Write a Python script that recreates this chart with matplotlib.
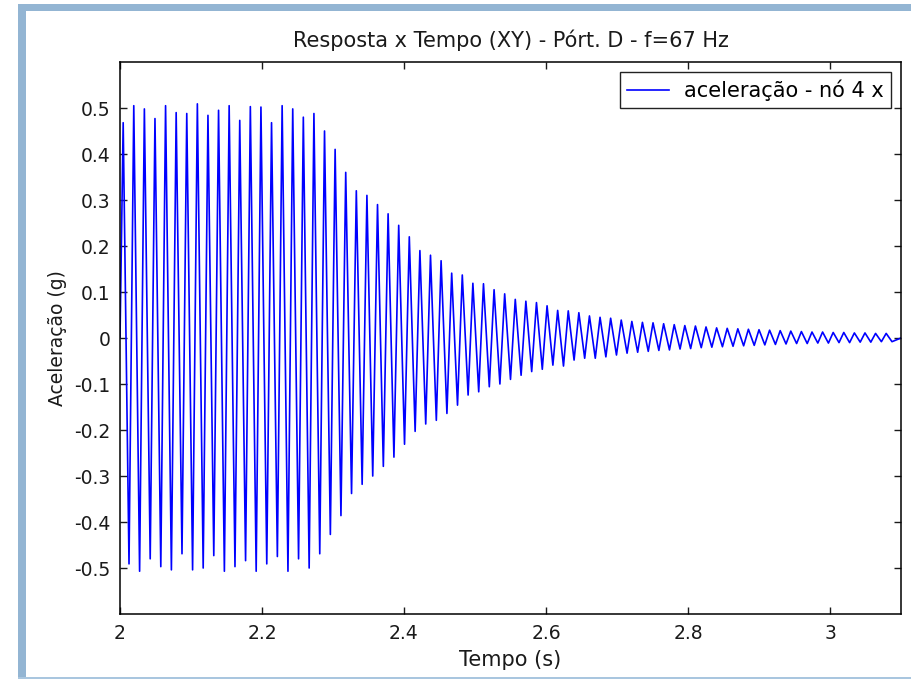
import numpy as np
import matplotlib
matplotlib.use('Agg')
import matplotlib.pyplot as plt
from matplotlib.patches import Rectangle

plt.rcParams['font.family'] = ['DejaVu Sans']
plt.rcParams['axes.unicode_minus'] = False

# excitation frequency (from the title), peaks
freq = 67.0
upper_peaks = [0.468, 0.505, 0.498, 0.477, 0.505, 0.49, 0.488, 0.509, 0.484, 0.495,
               0.505, 0.473, 0.503, 0.502, 0.468, 0.505, 0.498,
               0.48, 0.488, 0.45, 0.41, 0.36, 0.32, 0.31, 0.29, 0.27, 0.245,
               0.22, 0.19, 0.18, 0.168, 0.141, 0.137, 0.119, 0.118, 0.105, 0.096,
               0.084, 0.08, 0.077, 0.07, 0.06, 0.059, 0.055, 0.048, 0.045, 0.043,
               0.039, 0.036,
               0.034, 0.033, 0.031, 0.029, 0.027, 0.026, 0.024, 0.022, 0.021, 0.02,
               0.019, 0.018, 0.017, 0.016, 0.015, 0.014, 0.013, 0.013, 0.012, 0.012,
               0.011, 0.011, 0.010, 0.010]
lower_peaks = [-0.491, -0.507, -0.48, -0.497, -0.504, -0.469, -0.504, -0.50, -0.473,
               -0.507, -0.497, -0.484, -0.507, -0.491, -0.475, -0.507, -0.48, -0.50,
               -0.469, -0.427, -0.386, -0.338, -0.318, -0.30, -0.279, -0.259, -0.231,
               -0.203, -0.187, -0.179, -0.164, -0.146, -0.124, -0.117, -0.106, -0.10,
               -0.09, -0.081, -0.073, -0.068, -0.059, -0.061, -0.048, -0.044, -0.044,
               -0.041, -0.037, -0.033,
               -0.031, -0.029, -0.027, -0.026, -0.024, -0.023, -0.021, -0.02, -0.019,
               -0.018, -0.017, -0.016, -0.015, -0.014, -0.013, -0.012, -0.012, -0.011,
               -0.011, -0.010, -0.010, -0.009, -0.009, -0.008, -0.008]
t_start, t_end = 2.0, 3.1

xticks = [2, 2.2, 2.4, 2.6, 2.8, 3]
xtick_labels = ['2', '2.2', '2.4', '2.6', '2.8', '3']
yticks = [-0.5, -0.4, -0.3, -0.2, -0.1, 0, 0.1, 0.2, 0.3, 0.4, 0.5]
ytick_labels = ['-0.5', '-0.4', '-0.3', '-0.2', '-0.1', '0', '0.1', '0.2', '0.3', '0.4', '0.5']

# interleave the upper/lower peaks on the time axis
n = len(upper_peaks)
k = np.arange(n)
t_up = t_start + (k + 0.3) / freq
t_lo = t_start + (k + 0.85) / freq
t = np.concatenate([[t_start], np.column_stack([t_up, t_lo]).ravel(), [t_end]])
acc = np.concatenate([[0.0], np.column_stack([upper_peaks, lower_peaks]).ravel(), [0.0]])

W, H = 911, 679
fig = plt.figure(figsize=(W / 100, H / 100), dpi=100)
fig.patch.set_facecolor('white')

# light blue window frame
frame_col = '#93b5d3'
fig.add_artist(Rectangle((18 / W, 1 - 11 / H), 1, 7.5 / H, transform=fig.transFigure,
                         color=frame_col, lw=0))
fig.add_artist(Rectangle((18 / W, 0), 8 / W, 1 - 3.5 / H, transform=fig.transFigure,
                         color=frame_col, lw=0))
fig.add_artist(Rectangle((18 / W, 0), 1, 2.5 / H, transform=fig.transFigure,
                         color='#a9c6df', lw=0))

fs = 13.5
fs_text = 15
txt_col = '#1a1a1a'
ax = fig.add_axes([120 / W, 1 - 614 / H, 781 / W, 552 / H])
ax.plot(t, acc, color='#0000ff', lw=1.2, label='aceleração - nó 4 x')

ax.set_xlim(t_start, t_end)
ax.set_ylim(-0.6, 0.6)
ax.set_xticks(xticks)
ax.set_xticklabels(xtick_labels)
ax.set_yticks(yticks)
ax.set_yticklabels(ytick_labels)
ax.tick_params(direction='in', length=5, width=1, top=True, right=True,
               labelsize=fs, colors=txt_col, pad=7)
for s in ax.spines.values():
    s.set_linewidth(1.1)

ax.set_title('Resposta x Tempo (XY) - Pórt. D - f=67 Hz', fontsize=fs_text, pad=11,
             color=txt_col)
ax.set_xlabel('Tempo (s)', fontsize=fs_text, labelpad=5, color=txt_col)
ax.set_ylabel('Aceleração (g)', fontsize=fs, labelpad=5, color=txt_col)

leg = ax.legend(loc='upper right', fontsize=fs_text, fancybox=False, framealpha=1,
                edgecolor='#222222', borderaxespad=0.5, handlelength=2.0,
                borderpad=0.35, handletextpad=0.7)
leg.get_frame().set_linewidth(1.0)

fig.savefig('out.png', dpi=100)
